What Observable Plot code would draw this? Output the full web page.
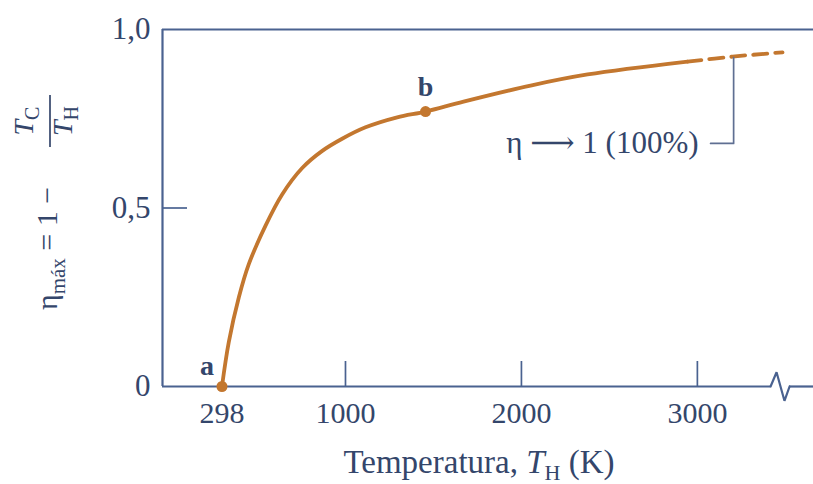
<!DOCTYPE html>
<html><head><meta charset="utf-8">
<script src="https://cdn.jsdelivr.net/npm/d3@7"></script>
<script src="https://cdn.jsdelivr.net/npm/@observablehq/plot@0.6"></script>
<style>
body{margin:0;background:#fff;}
#chart svg{display:block;}
</style>
</head><body><div id="chart"></div>
<script>
// Curve (temperature T_H in K, efficiency eta)
const curveT   = [298, 337, 394, 450, 545, 640, 754, 868, 981, 1114, 1294, 1455, 1671, 2052, 2376, 2944];
const curveEta = [0, 0.125, 0.250, 0.342, 0.450, 0.538, 0.612, 0.660, 0.694, 0.726, 0.754, 0.770, 0.798, 0.843, 0.874, 0.910];
const dashT    = [2944, 3200, 3484];
const dashEta  = [0.910, 0.924, 0.936];
const pointNames = ["a", "b"];
const pointT   = [298, 1455];
const pointEta = [0, 0.770];
const xTicks = [298, 1000, 2000, 3000];
const xTickLabels = ["298", "1000", "2000", "3000"];
const xInnerTicks = [1000, 2000, 3000];
const yTicks = [0, 0.5, 1];
const yTickLabels = ["0", "0,5", "1,0"];
const yInnerTicks = [0.5];
const annotText = "η ⟶ 1 (100%)";
const annotT = [3206, 3206, 3075];
const annotEta = [0.921, 0.681, 0.681];
const breakT = [3416, 3450, 3495, 3524];
const breakEta = [0, 0.04, -0.04, 0];

const xMin = -40, xMax = 3660;
const W = 813, H = 484, mL = 162, mR = 0, mT = 29, mB = 98;
const tickPx = 25;
const yTickLen = tickPx / (H - mT - mB);
const xTickLen = tickPx / (W - mL - mR) * (xMax - xMin);

const axisColor = "#4a6290";
const textColor = "#34466b";
const curveColor = "#c3772f";
const font = "'Liberation Serif', 'DejaVu Serif', serif";

const curve = curveT.map((t, i) => ({t, e: curveEta[i]}));
const dash = dashT.map((t, i) => ({t, e: dashEta[i]}));
const pts = pointNames.map((n, i) => ({n, t: pointT[i], e: pointEta[i]}));
const annot = annotT.map((t, i) => ({t, e: annotEta[i]}));
const brk = breakT.map((t, i) => ({t, e: breakEta[i]}));

const plot = Plot.plot({
  width: W, height: H,
  marginLeft: mL, marginRight: mR, marginTop: mT, marginBottom: mB,
  x: {domain: [xMin, xMax], axis: null},
  y: {domain: [0, 1], axis: null},
  style: {fontFamily: font, background: "#fff"},
  marks: [
    // frame
    Plot.ruleX([xMin], {y1: 0, y2: 1, stroke: axisColor, strokeWidth: 2.2}),
    Plot.ruleY([1], {x1: xMin, x2: xMax, stroke: axisColor, strokeWidth: 2.2}),
    Plot.ruleY([0], {x1: xMin, x2: breakT[0], stroke: axisColor, strokeWidth: 2.2}),
    Plot.line(brk, {x: "t", y: "e", stroke: axisColor, strokeWidth: 2.2, strokeLinejoin: "miter"}),
    Plot.ruleY([0], {x1: breakT[breakT.length - 1], x2: xMax, stroke: axisColor, strokeWidth: 2.2}),
    // inner ticks
    Plot.ruleX(xInnerTicks, {y1: 0, y2: yTickLen, stroke: axisColor, strokeWidth: 1.7}),
    Plot.ruleY(yInnerTicks, {x1: xMin, x2: xMin + xTickLen, stroke: axisColor, strokeWidth: 1.7}),
    // tick labels
    Plot.text(xTicks, {x: d => d, y: 0, text: (d, i) => xTickLabels[i], dy: 27, fontSize: 30, fill: textColor, fontFamily: font}),
    Plot.text(yTicks, {x: xMin, y: d => d, text: (d, i) => yTickLabels[i], dx: -12, textAnchor: "end", fontSize: 31, fill: textColor, fontFamily: font}),
    // curve
    Plot.line(curve, {x: "t", y: "e", curve: "catmull-rom", stroke: curveColor, strokeWidth: 3.8}),
    Plot.line(dash, {x: "t", y: "e", curve: "catmull-rom", stroke: curveColor, strokeWidth: 3.8, strokeDasharray: "14,8"}),
    Plot.dot(pts, {x: "t", y: "e", r: 5.5, fill: curveColor}),
    Plot.text(pts.filter(d => d.n === "a"), {x: "t", y: "e", text: "n", dx: -15, dy: -20, fontSize: 28, fontWeight: "bold", fill: textColor, fontFamily: font}),
    Plot.text(pts.filter(d => d.n === "b"), {x: "t", y: "e", text: "n", dx: 0, dy: -25, fontSize: 28, fontWeight: "bold", fill: textColor, fontFamily: font}),
    // annotation
    Plot.line(annot, {x: "t", y: "e", stroke: "#5f6f92", strokeWidth: 1.7}),
    Plot.text([annotText], {x: annotT[2], y: annotEta[2], text: d => d, dx: -12, textAnchor: "end", fontSize: 31, fill: textColor, fontFamily: font})
  ]
});

const svg = d3.select(plot);
// x axis title
const xt = svg.append("text").attr("x", 479).attr("y", 473).attr("text-anchor", "middle")
  .attr("font-family", font).attr("font-size", 33).attr("fill", textColor);
xt.append("tspan").text("Temperatura, ");
xt.append("tspan").attr("font-style", "italic").text("T");
xt.append("tspan").attr("font-size", 22).attr("dy", 7).text("H");
xt.append("tspan").attr("dy", -7).text(" (K)");

// y axis title (rotated)
const g = svg.append("g").attr("transform", "translate(57,0) rotate(-90)")
  .attr("font-family", font).attr("fill", textColor);
const yt = g.append("text").attr("x", -310).attr("y", 0).attr("font-size", 30).attr("text-anchor", "start");
yt.append("tspan").text("η");
yt.append("tspan").attr("font-size", 21).attr("dy", 8).text("máx");
yt.append("tspan").attr("dy", -8).text(" = 1 − ");
const fc = -121;
const num = g.append("text").attr("x", fc).attr("y", -24).attr("text-anchor", "middle").attr("font-size", 28);
num.append("tspan").attr("font-style", "italic").text("T");
num.append("tspan").attr("font-size", 20).attr("dy", 6).text("C");
g.append("line").attr("x1", fc - 26).attr("x2", fc + 26).attr("y1", -7).attr("y2", -7)
  .attr("stroke", textColor).attr("stroke-width", 1.7);
const den = g.append("text").attr("x", fc).attr("y", 15).attr("text-anchor", "middle").attr("font-size", 28);
den.append("tspan").attr("font-style", "italic").text("T");
den.append("tspan").attr("font-size", 20).attr("dy", 6).text("H");

document.getElementById("chart").appendChild(plot);
</script>
</body></html>
